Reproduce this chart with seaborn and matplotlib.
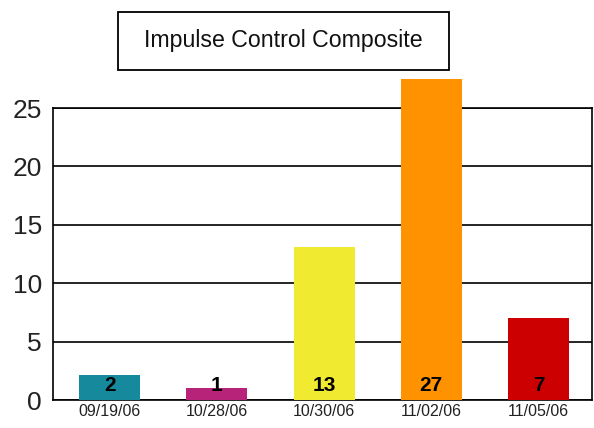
import matplotlib
matplotlib.use("Agg")
import matplotlib.pyplot as plt
import seaborn as sns
import pandas as pd
from matplotlib.patches import Rectangle

dates = ["09/19/06", "10/28/06", "10/30/06", "11/02/06", "11/05/06"]
heights = [2.1, 1.0, 13.1, 27.5, 7.0]
value_labels = ["2", "1", "13", "27", "7"]
colors = ["#168a9c", "#b8237a", "#f0ea30", "#ff9200", "#cc0000"]
yticks = [0, 5, 10, 15, 20, 25]

sns.set_style("white")
plt.rcParams['font.family'] = ['Liberation Sans', 'DejaVu Sans']
plt.rcParams['text.color'] = 'black'
plt.rcParams['xtick.color'] = 'black'
plt.rcParams['ytick.color'] = 'black'

df = pd.DataFrame({"date": dates, "value": heights})

fig = plt.figure(figsize=(5.94, 4.28), dpi=100)
ax = fig.add_axes([53/594, 1-400/428, (592-53)/594, (400-108)/428])

sns.barplot(data=df, x="date", y="value", hue="date", palette=colors,
            width=0.57, legend=False, ax=ax, saturation=1, zorder=3)
for p in ax.patches:
    p.set_clip_on(False)
    p.set_edgecolor("none")

ax.set_ylim(0, 25)
ax.set_xlim(-0.53, 4.5)
ax.set_yticks(yticks)
ax.set_yticklabels([str(t) for t in yticks], fontsize=19, color="#222222")
ax.tick_params(axis="y", length=0, pad=8)
ax.tick_params(axis="x", length=0, pad=3, labelsize=11.5, labelcolor="#222222")
ax.set_xlabel("")
ax.set_ylabel("")
for t in yticks:
    ax.axhline(t, color="black", lw=1.2, zorder=1)
for s in ax.spines.values():
    s.set_color("black")
    s.set_linewidth(1.2)
    s.set_visible(True)
    s.set_zorder(2)

for i, lab in enumerate(value_labels):
    ax.text(i, 1.25, lab, ha="center", va="center", fontsize=15,
            fontweight="bold", color="black", zorder=4)

fig.patches.append(Rectangle((118/594, 1-70/428), 331/594, 58/428,
                             transform=fig.transFigure, fill=False,
                             edgecolor="black", linewidth=1.3))
fig.text(283.5/594, 1-41/428, "Impulse Control Composite", ha="center",
         va="center", fontsize=16.7, color="#111111")

fig.savefig("out.png", dpi=100)
